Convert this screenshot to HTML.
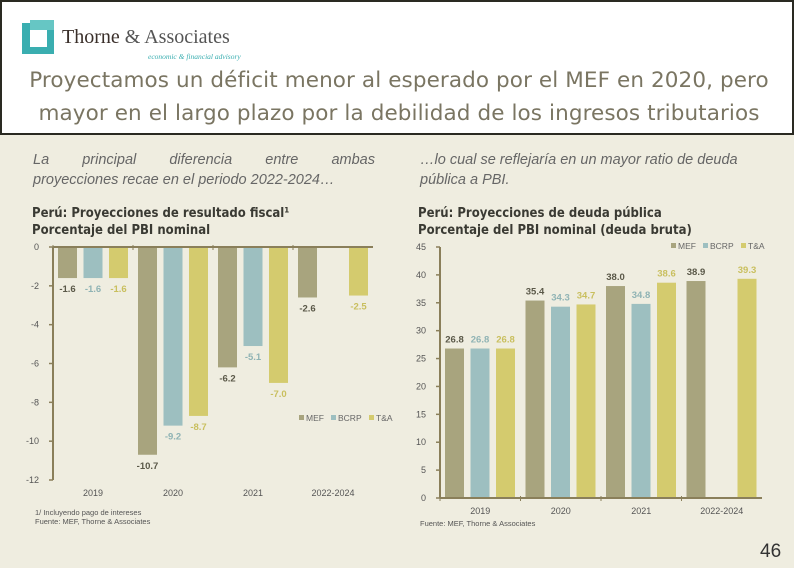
<!DOCTYPE html>
<html><head><meta charset="utf-8"><style>
body{margin:0;width:794px;height:568px;background:#efede0;font-family:"Liberation Sans",sans-serif;position:relative;overflow:hidden}
.abs{position:absolute}
#hdr{left:0;top:0;width:790px;height:131px;background:#fff;border:2px solid #2a2a22;}
.ttl{left:0;width:794px;text-align:center;font-size:21.5px;color:#7a7562;font-family:"DejaVu Sans",sans-serif;letter-spacing:0.1px}
.sub{font-style:italic;font-size:14.5px;color:#666;font-family:"Liberation Sans",sans-serif}
.ct{font-weight:bold;font-size:13px;color:#3a3a33;font-family:"DejaVu Sans Condensed","DejaVu Sans",sans-serif;line-height:17px}
svg text{font-family:"Liberation Sans",sans-serif}
</style></head><body>
<div id="hdr" class="abs">
 <svg class="abs" style="left:20px;top:18px" width="36" height="36">
  <rect x="0" y="3" width="32" height="31" fill="#3aaeb0"/><rect x="8" y="10" width="17" height="17" fill="#fff"/><rect x="8" y="0" width="24" height="10" fill="#66c6c4"/></svg>
 <div class="abs" style="left:60px;top:24px;font-family:'Liberation Serif',serif;font-size:20px;color:#3a2f2a">Thorne <span style="color:#555">&amp; Associates</span></div>
 <div class="abs" style="left:146px;top:50px;font-family:'Liberation Serif',serif;font-style:italic;font-size:7.5px;color:#3aaeb0">economic &amp; financial advisory</div>
 <div class="abs ttl" style="top:66px">Proyectamos un déficit menor al esperado por el MEF en 2020, pero</div>
 <div class="abs ttl" style="top:99px">mayor en el largo plazo por la debilidad de los ingresos tributarios</div>
</div>
<div class="abs sub" style="left:33px;top:150px;width:342px;line-height:20px">
 <div style="display:flex;justify-content:space-between"><span>La</span><span>principal</span><span>diferencia</span><span>entre</span><span>ambas</span></div>
 <div>proyecciones recae en el periodo 2022-2024…</div></div>
<div class="abs sub" style="left:420px;top:150px;width:370px;line-height:20px">…lo cual se reflejaría en un mayor ratio de deuda<br>pública a PBI.</div>
<div class="abs ct" style="left:32px;top:205px">Perú: Proyecciones de resultado fiscal¹<br>Porcentaje del PBI nominal</div>
<div class="abs ct" style="left:418px;top:205px">Perú: Proyecciones de deuda pública<br>Porcentaje del PBI nominal (deuda bruta)</div>
<svg id="c1" class="abs" style="left:0;top:0" width="794" height="568"></svg>
<div class="abs" style="left:35px;top:508px;font-size:7.5px;color:#555;line-height:9px">1/ Incluyendo pago de intereses<br>Fuente: MEF, Thorne &amp; Associates</div>
<div class="abs" style="left:420px;top:519px;font-size:7.5px;color:#555">Fuente: MEF, Thorne &amp; Associates</div>
<div class="abs" style="left:760px;top:541px;font-size:19px;color:#333">46</div>
<script>
const categories=["2019","2020","2021","2022-2024"];
const seriesNames=["MEF","BCRP","T&A"];
const fiscalMEF=[-1.6,-10.7,-6.2,-2.6];
const fiscalBCRP=[-1.6,-9.2,-5.1,null];
const fiscalTA=[-1.6,-8.7,-7.0,-2.5];
const debtMEF=[26.8,35.4,38.0,38.9];
const debtBCRP=[26.8,34.3,34.8,null];
const debtTA=[26.8,34.7,38.6,39.3];
const fiscalTicks=[0,-2,-4,-6,-8,-10,-12];
const debtTicks=[0,5,10,15,20,25,30,35,40,45];
const colors=["#a8a47e","#9dbfc0","#d4cb6e"];
const labelColors=["#5a5848","#8fb3b4","#c9bf5e"];
const svg=document.getElementById('c1');
const NS="http://www.w3.org/2000/svg";
function mk(t,a,txt){const e=document.createElementNS(NS,t);for(const k in a)e.setAttribute(k,a[k]);if(txt!=null)e.textContent=txt;svg.appendChild(e);return e;}
function chart(o){
 const y=v=>o.y0+(v-o.vmin)/(o.vmax-o.vmin)*(o.y1-o.y0);
 const gw=(o.x1-o.x0)/categories.length;
 const series=o.series;
 series.forEach((s,si)=>{s.forEach((v,ci)=>{if(v==null)return;
  const bx=o.x0+ci*gw+5+si*25.5;const ya=y(0),yb=y(v);
  const r=mk('rect',{x:bx,y:Math.min(ya,yb),width:19,height:Math.abs(yb-ya),fill:colors[si]});
  
  
  const ly=v<0?yb+14:yb-6;
  const t=mk('text',{x:bx+9.5,y:ly,'text-anchor':'middle','font-size':9.5,'font-weight':'bold',fill:labelColors[si]},v.toFixed(1));
  
  
 });});
 const ax=mk('line',{x1:o.x0,x2:o.x0,y1:y(o.vmin),y2:y(o.vmax),stroke:'#8a7f5a','stroke-width':2});
 
 const bx=mk('line',{x1:o.x0,x2:o.x1,y1:y(o.base),y2:y(o.base),stroke:'#8a7f5a','stroke-width':2});
 
 o.ticks.forEach(tv=>{mk('line',{x1:o.x0-4,x2:o.x0,y1:y(tv),y2:y(tv),stroke:'#8a7f5a','stroke-width':1.5});
  const t=mk('text',{x:o.x0-14,y:y(tv)+3,'text-anchor':'end','font-size':9,fill:'#555'},tv);
  });
 categories.forEach((c,ci)=>{const t=mk('text',{x:o.x0+(ci+0.5)*gw,y:o.catY,'text-anchor':'middle','font-size':9,fill:'#555'},c);
  
  mk('line',{x1:o.x0+ci*gw,x2:o.x0+ci*gw,y1:y(o.base)-2,y2:y(o.base)+3,stroke:'#8a7f5a'});});
 let lx=o.legX;
 seriesNames.forEach((n,i)=>{mk('rect',{x:lx,y:o.legY-6,width:5,height:5,fill:colors[i]});
  const t=mk('text',{x:lx+7,y:o.legY,'font-size':8.5,fill:'#666'},n);
  
  lx+=n.length*6+14;});
}
chart({name:'fiscal',x0:53,x1:373,y0:247,y1:480,vmin:0,vmax:-12,base:0,ticks:fiscalTicks,series:[fiscalMEF,fiscalBCRP,fiscalTA],catY:496,legX:299,legY:421});
chart({name:'debt',x0:440,x1:762,y0:498,y1:247,vmin:0,vmax:45,base:0,ticks:debtTicks,series:[debtMEF,debtBCRP,debtTA],catY:514,legX:671,legY:249});
</script>
</body></html>
